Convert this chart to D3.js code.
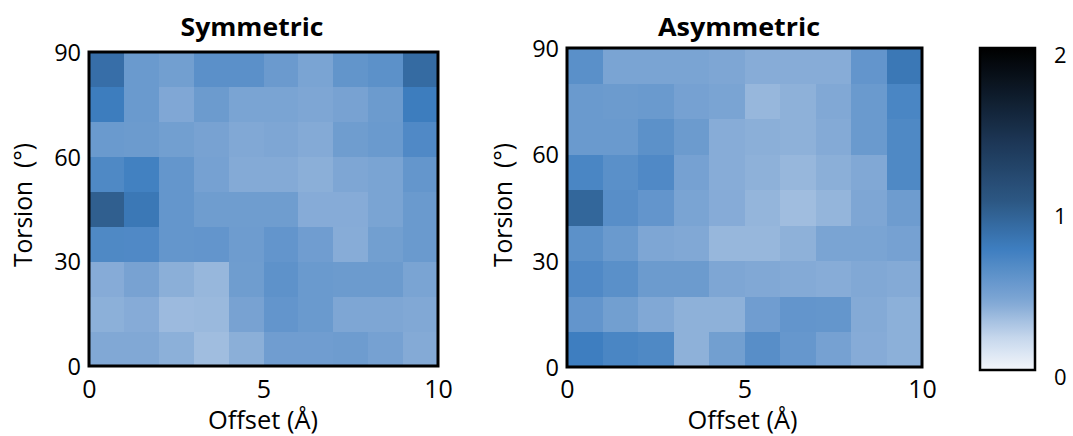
<!DOCTYPE html>
<html>
<head>
<meta charset="utf-8">
<script src="https://cdn.jsdelivr.net/npm/d3@7"></script>
<style>
  html, body { margin: 0; padding: 0; background: #fff; }
  svg { display: block; }
  text { font-family: "Open Sans", Lato, sans-serif; fill: #000; }
</style>
</head>
<body>
<svg id="chart" width="1073" height="436"></svg>
<script>
// Bin starts: offset in Å (1 Å wide), torsion in degrees (10° wide)
const offsetBins = [0, 1, 2, 3, 4, 5, 6, 7, 8, 9];
const torsionBins = [0, 10, 20, 30, 40, 50, 60, 70, 80];

// Energy values, one row per torsion bin from 0° upward, one entry per offset bin
const symmetricValues = [
  [0.42, 0.42, 0.385, 0.32, 0.39, 0.50, 0.50, 0.51, 0.47, 0.41],
  [0.385, 0.405, 0.335, 0.34, 0.46, 0.565, 0.53, 0.43, 0.43, 0.42],
  [0.405, 0.46, 0.39, 0.35, 0.505, 0.59, 0.53, 0.52, 0.52, 0.45],
  [0.665, 0.66, 0.56, 0.565, 0.51, 0.565, 0.50, 0.40, 0.49, 0.53],
  [0.99, 0.80, 0.56, 0.505, 0.505, 0.505, 0.405, 0.405, 0.45, 0.53],
  [0.665, 0.73, 0.56, 0.47, 0.41, 0.41, 0.39, 0.43, 0.45, 0.56],
  [0.53, 0.52, 0.49, 0.46, 0.42, 0.43, 0.41, 0.505, 0.53, 0.66],
  [0.76, 0.53, 0.424, 0.52, 0.45, 0.45, 0.43, 0.46, 0.52, 0.76],
  [0.87, 0.53, 0.49, 0.605, 0.605, 0.525, 0.45, 0.57, 0.60, 0.90]
];
const asymmetricValues = [
  [0.75, 0.69, 0.665, 0.38, 0.49, 0.62, 0.55, 0.47, 0.405, 0.385],
  [0.565, 0.49, 0.42, 0.38, 0.38, 0.50, 0.565, 0.56, 0.41, 0.385],
  [0.66, 0.61, 0.52, 0.52, 0.43, 0.42, 0.41, 0.40, 0.42, 0.41],
  [0.60, 0.53, 0.43, 0.42, 0.35, 0.35, 0.38, 0.45, 0.45, 0.47],
  [0.93, 0.62, 0.565, 0.45, 0.405, 0.36, 0.32, 0.36, 0.43, 0.51],
  [0.69, 0.61, 0.66, 0.47, 0.40, 0.38, 0.35, 0.39, 0.42, 0.665],
  [0.53, 0.53, 0.60, 0.52, 0.40, 0.39, 0.38, 0.41, 0.53, 0.665],
  [0.53, 0.52, 0.53, 0.47, 0.45, 0.35, 0.38, 0.42, 0.53, 0.69],
  [0.61, 0.45, 0.45, 0.45, 0.43, 0.40, 0.40, 0.40, 0.565, 0.80]
];

const panelTitles = ["Symmetric", "Asymmetric"];
const xTicks = [0, 5, 10];
const yTicks = [0, 30, 60, 90];
const colorTicks = [0, 1, 2];

// Colour ramp: white through mid blue to black
const color = d3.scaleLinear()
  .domain([0, 0.2, 0.43, 0.75, 1.05, 1.4, 2])
  .range(["#f3f6fb", "#c6d7ec", "#7ea6d4", "#3e7ec0", "#2c5783", "#1d3858", "#000000"])
  .clamp(true);

const svg = d3.select("#chart");

const panels = [
  { title: panelTitles[0], values: symmetricValues, left: 89, right: 438, top: 52, bottom: 366,
    titleX: 252, titleW: 143, xlabX: 263, ylabX: 32 },
  { title: panelTitles[1], values: asymmetricValues, left: 567, right: 922, top: 48, bottom: 367,
    titleX: 739, titleW: 162, xlabX: 742.5, ylabX: 512 }
];

panels.forEach(p => {
  const x = d3.scaleLinear().domain([0, 10]).range([p.left, p.right]);
  const y = d3.scaleLinear().domain([0, 90]).range([p.bottom, p.top]);
  const g = svg.append("g");

  const cells = [];
  torsionBins.forEach((t, r) => offsetBins.forEach((o, c) => {
    cells.push({ o, t, v: p.values[r][c] });
  }));

  g.selectAll("rect.cell").data(cells).join("rect")
    .attr("class", "cell")
    .attr("x", d => x(d.o))
    .attr("y", d => y(d.t + 10))
    .attr("width", d => x(d.o + 1) - x(d.o) + 0.5)
    .attr("height", d => y(d.t) - y(d.t + 10) + 0.5)
    .attr("fill", d => color(d.v))
    .attr("shape-rendering", "crispEdges");

  // frame
  g.append("rect")
    .attr("x", x(0)).attr("y", y(90))
    .attr("width", x(10) - x(0)).attr("height", y(0) - y(90))
    .attr("fill", "none").attr("stroke", "#000").attr("stroke-width", 3);

  // x axis labels
  const xAxis = d3.axisBottom(x).tickValues(xTicks).tickSize(0).tickPadding(0);
  const gx = g.append("g").attr("transform", `translate(0,398)`).call(xAxis);
  gx.select(".domain").remove();
  gx.selectAll("text").attr("font-size", 25).attr("y", 0).attr("dy", 0)
    .style("font-family", "'Open Sans', sans-serif").attr("fill", "#000");

  // y axis labels
  const yAxis = d3.axisLeft(y).tickValues(yTicks).tickSize(0).tickPadding(0);
  const gy = g.append("g").attr("transform", `translate(${p.left - 8},0)`).call(yAxis);
  gy.select(".domain").remove();
  gy.selectAll("text").attr("font-size", 23.5).attr("dy", "0.36em")
    .style("font-family", "'Open Sans', sans-serif").attr("fill", "#000");

  g.append("text")
    .attr("x", p.titleX).attr("y", 36)
    .attr("text-anchor", "middle")
    .attr("font-size", 25).attr("font-weight", "bold")
    .attr("textLength", p.titleW).attr("lengthAdjust", "spacingAndGlyphs")
    .text(p.title);

  g.append("text")
    .attr("x", p.xlabX).attr("y", 429)
    .attr("text-anchor", "middle")
    .attr("font-size", 25)
    .attr("textLength", 110).attr("lengthAdjust", "spacingAndGlyphs")
    .text("Offset (Å)");

  g.append("text")
    .attr("transform", `translate(${p.ylabX},205) rotate(-90)`)
    .attr("text-anchor", "middle")
    .attr("font-size", 25)
    .attr("textLength", 124).attr("lengthAdjust", "spacingAndGlyphs")
    .attr("xml:space", "preserve")
    .text("Torsion  (°)");
});

// Colour bar
const cb = { left: 980, right: 1035, top: 48, bottom: 370 };
const cbScale = d3.scaleLinear().domain([0, 2]).range([cb.bottom, cb.top]);
const defs = svg.append("defs");
const grad = defs.append("linearGradient")
  .attr("id", "cbar").attr("x1", 0).attr("y1", 1).attr("x2", 0).attr("y2", 0);
grad.selectAll("stop").data(d3.range(0, 2.0001, 0.05)).join("stop")
  .attr("offset", d => d / 2)
  .attr("stop-color", d => color(d));

svg.append("rect")
  .attr("x", cb.left).attr("y", cbScale(2))
  .attr("width", cb.right - cb.left).attr("height", cbScale(0) - cbScale(2))
  .attr("fill", "url(#cbar)")
  .attr("stroke", "#000").attr("stroke-width", 2.5);

svg.selectAll("text.cbtick").data(colorTicks).join("text")
  .attr("class", "cbtick")
  .attr("x", 1054)
  .attr("y", d => cbScale(d) + 7.5)
  .attr("dy", "0.36em")
  .attr("font-size", 22)
  .text(d => d);
</script>
</body>
</html>
